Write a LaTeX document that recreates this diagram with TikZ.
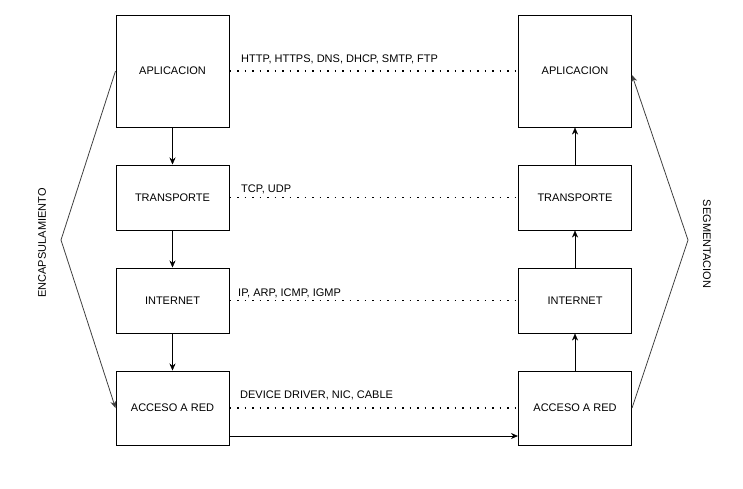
\documentclass[tikz,border=0pt]{standalone}
\usepackage{fontspec}
\setmainfont{Liberation Sans}
\usetikzlibrary{arrows.meta}
\begin{document}
\begin{tikzpicture}[x=1pt, y=-1pt,
    capa/.style={draw, line width=1pt, minimum width=113pt, inner sep=0pt,
      font=\fontsize{11}{13}\selectfont},
    proto/.style={anchor=base west, inner sep=0pt, font=\fontsize{11}{13}\selectfont},
    punteado/.style={line width=1.6pt, dash pattern=on 1.6pt off 5.9pt},
    lado/.style={draw=black!75, line width=0.8pt},
    >={Stealth[length=7pt, width=6pt]}]

    \useasboundingbox (0, 0) rectangle (743, 488);

    \node [capa, minimum height=112pt] (apl1) at (172.5, 71) {APLICACION};
    \node [capa, minimum height=65pt] (tra1) at (172.5, 197.5) {TRANSPORTE};
    \node [capa, minimum height=65pt] (int1) at (172.5, 300.5) {INTERNET};
    \node [capa, minimum height=74pt] (acc1) at (172.5, 408) {ACCESO A RED};

    \node [capa, minimum height=112pt] (apl2) at (575, 71) {APLICACION};
    \node [capa, minimum height=65pt] (tra2) at (575, 197.5) {TRANSPORTE};
    \node [capa, minimum height=65pt] (int2) at (575, 300.5) {INTERNET};
    \node [capa, minimum height=74pt] (acc2) at (575, 408) {ACCESO A RED};

    \draw [->] (apl1) -- (tra1);
    \draw [->] (tra1) -- (int1);
    \draw [->] (int1) -- (acc1);
    \draw [->] (acc2) -- (int2);
    \draw [->] (int2) -- (tra2);
    \draw [->] (tra2) -- (apl2);

    \draw [punteado] (apl1) -- (apl2);
    \draw [punteado] (tra1) -- (tra2);
    \draw [punteado] (int1) -- (int2);
    \draw [punteado] (acc1) -- (acc2);

    \node [proto] (p1) at (241, 62) {HTTP, HTTPS, DNS, DHCP, SMTP, FTP};
    \node [proto] (p2) at (241, 192) {TCP, UDP};
    \node [proto] (p3) at (238, 296) {IP, ARP, ICMP, IGMP};
    \node [proto] (p4) at (240, 398) {DEVICE DRIVER, NIC, CABLE};

    \draw [->, line width=0.8pt] (acc1.east |- 0, 436) -- (acc2.west |- 0, 436);

    \coordinate (encap) at (61, 240);
    \coordinate (segm) at (688, 240);
    \draw [lado, ->] (apl1.west) -- (encap) -- (acc1.west);
    \draw [lado, ->] (acc2.east) -- (segm) -- ([yshift=-4pt]apl2.east);

    \node [rotate=90, font=\fontsize{11}{13}\selectfont] (enc) at (42, 243) {ENCAPSULAMIENTO};
    \node [rotate=-90, font=\fontsize{11}{13}\selectfont] (seg) at (707, 244) {SEGMENTACION};

\end{tikzpicture}
\end{document}
